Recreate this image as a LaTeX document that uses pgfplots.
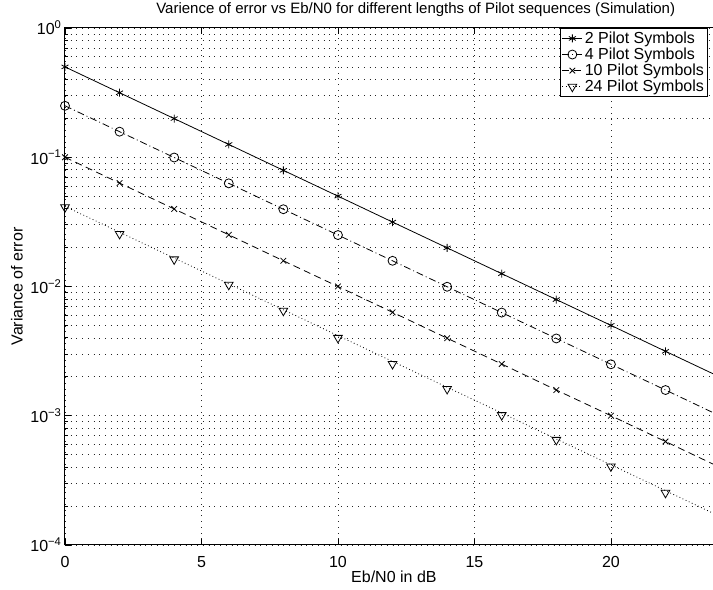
\documentclass[border=0pt]{standalone}
\usepackage{fontspec}
\setmainfont{Liberation Sans}
\usepackage{pgfplots}
\pgfplotsset{compat=1.18}

\newcommand\mf{\fontsize{16}{19}\selectfont}

% theory curves (lines) and simulated points (markers), Eb/N0 in dB
\pgfplotstableread{
x    p2       p4       p10      p24
0    0.5      0.25     0.1      0.04167
2    0.3155   0.1577   0.0631   0.02629
4    0.1991   0.0995   0.0398   0.01659
6    0.1256   0.0628   0.0251   0.01047
8    0.0792   0.0396   0.0158   0.0066
10   0.05     0.025    0.01     0.004167
12   0.0315   0.0158   0.00631  0.00263
14   0.0199   0.00995  0.00398  0.00166
16   0.01256  0.00628  0.00251  0.00105
18   0.00792  0.00396  0.00158  0.00066
20   0.005    0.0025   0.001    0.000417
22   0.00315  0.00158  0.000631 0.000263
24   0.00199  0.000995 0.000398 0.000166
}\theory

\pgfplotstableread{
x    s24
0    0.0410
2    0.0255
4    0.0162
6    0.0103
8    0.00649
10   0.00400
12   0.00251
14   0.00161
16   0.00101
18   0.00065
20   0.000405
22   0.000253
}\simtf

\tikzset{
  mdot/.style={dash pattern=on 0.8pt off 2.6pt},
  mdash/.style={dash pattern=on 7pt off 4.5pt},
  mdashdot/.style={dash pattern=on 7pt off 3pt on 0.9pt off 3pt},
}

\begin{document}
\begin{tikzpicture}
\begin{axis}[
  scale only axis,
  width=682.5pt, height=517pt,
  ymode=log,
  xmin=0, xmax=25, ymin=1e-4, ymax=1,
  xtick={0,5,10,15,20,25},
  xticklabels={0,5,10,15,20,{}},
  ytick={1e-4,1e-3,1e-2,1e-1,1},
  yticklabels={10\textsuperscript{−4},10\textsuperscript{−3},10\textsuperscript{−2},10\textsuperscript{−1},10\textsuperscript{0}},
  tick label style={font=\mf},
  xticklabel style={yshift=-8pt},
  tick align=inside,
  major tick length=6pt,
  minor tick length=3pt,
  tick style={black, line width=0.8pt},
  axis line style={line width=1pt},
  grid=both,
  major grid style={black!85, line width=0.75pt, dash pattern=on 0.75pt off 5pt},
  minor grid style={black!85, line width=0.75pt, dash pattern=on 0.75pt off 5pt},
  title={Varience of error vs Eb/N0 for different lengths of Pilot sequences (Simulation)},
  every axis title shift=0pt,
  title style={font=\fontsize{15}{18}\selectfont, at={(axis description cs:0.514,1.036)}, anchor=center},
  xlabel={Eb/N0 in dB},
  xlabel style={font=\mf, at={(axis description cs:0.482,-0.061)}, anchor=center},
  ylabel={Variance of error},
  ylabel style={font=\mf, at={(axis description cs:-0.0704,0.5)}, anchor=center},
  legend style={at={(0.942,1)}, anchor=north east, draw=black, line width=0.8pt,
    fill=white, inner sep=1.5pt, row sep=-1pt, font=\mf},
  legend cell align=left,
  legend image code/.code={\draw[#1, mark indices={2}] plot coordinates {(0pt,0pt) (10pt,0pt) (20pt,0pt)};},
]
\addplot[black, line width=0.8pt, mark=asterisk, mark size=4pt, mark indices={1,...,12},
  mark options={solid}] table[x=x, y=p2] {\theory};
\addplot[black, line width=0.8pt, mdashdot, mark=o, mark size=4.5pt, mark indices={1,...,12},
  mark options={solid}] table[x=x, y=p4] {\theory};
\addplot[black, line width=0.8pt, mdash, mark=x, mark size=4pt, mark indices={1,...,12},
  mark options={solid}] table[x=x, y=p10] {\theory};
\addplot[black, line width=0.8pt, mdot, forget plot] table[x=x, y=p24] {\theory};
\addplot[black, line width=0.8pt, only marks, mark=triangle, mark size=5pt,
  mark options={solid, rotate=180}, forget plot] table[x=x, y=s24] {\simtf};
\addlegendimage{black, line width=0.8pt, mdot, mark=triangle, mark size=5pt, mark options={solid, rotate=180}}
\legend{2 Pilot Symbols, 4 Pilot Symbols, 10 Pilot Symbols, 24 Pilot Symbols}
\coordinate (ll) at (axis cs:0,1e-4);
\coordinate (ur) at (axis cs:23.74,1);
\end{axis}
\pgfresetboundingbox
\path[use as bounding box] ([xshift=-65pt,yshift=-45pt]ll) rectangle ([yshift=28pt]ur);
\end{tikzpicture}
\end{document}
